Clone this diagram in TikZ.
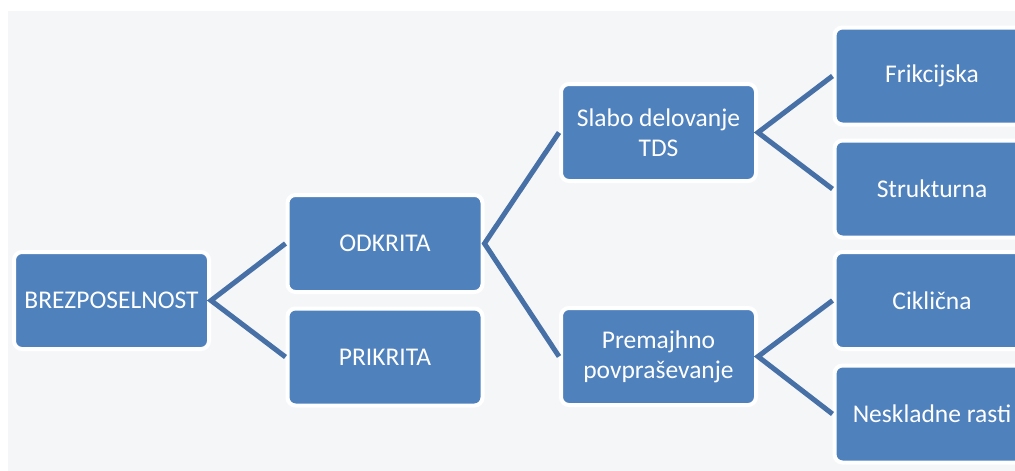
\documentclass[tikz,border=0pt]{standalone}
\usepackage{fontspec}
\setmainfont{Carlito}
\definecolor{boxblue}{RGB}{79,129,189}
\definecolor{linkblue}{RGB}{70,112,166}
\definecolor{bggray}{RGB}{245,246,248}
\tikzset{
  box/.style={rectangle, rounded corners=8pt, fill=boxblue, draw=white, line width=4pt,
    minimum width=195pt, minimum height=97pt, inner sep=0pt, text=white, align=center,
    font=\fontsize{25.5}{30}\selectfont},
  link/.style={draw=linkblue, line width=5pt}
}
\begin{document}
\begin{tikzpicture}[x=1pt,y=-1pt]
    \useasboundingbox (0,0) rectangle (1015,471);
    \fill[bggray] (8,11) rectangle (1015,471);
    \coordinate (B) at (111.5,300.5);
    \coordinate (O) at (385,243.5);
    \coordinate (P) at (385,357);
    \coordinate (S) at (658.5,132.5);
    \coordinate (M) at (658.5,356.5);
    \node[box] (brez) at (B) {BREZPOSELNOST};
    \node[box] (odkrita) at (O) {ODKRITA};
    \node[box] (prikrita) at (P) {PRIKRITA};
    \node[box] (slabo) at (S) {Slabo delovanje\\TDS};
    \node[box] (premajhno) at (M) {Premajhno\\povpraševanje};
    \node[box] (frik) at (932,76) {Frikcijska};
    \node[box] (struk) at (932,189) {Strukturna};
    \node[box] (cikl) at (932,300.5) {Ciklična};
    \node[box] (nesk) at (932,414) {Neskladne rasti};
    \draw[link] (odkrita.west) -- (brez.east) -- (prikrita.west);
    \draw[link] (slabo.west) -- (odkrita.east) -- (premajhno.west);
    \draw[link] (frik.west) -- (slabo.east) -- (struk.west);
    \draw[link] (cikl.west) -- (premajhno.east) -- (nesk.west);
\end{tikzpicture}
\end{document}
